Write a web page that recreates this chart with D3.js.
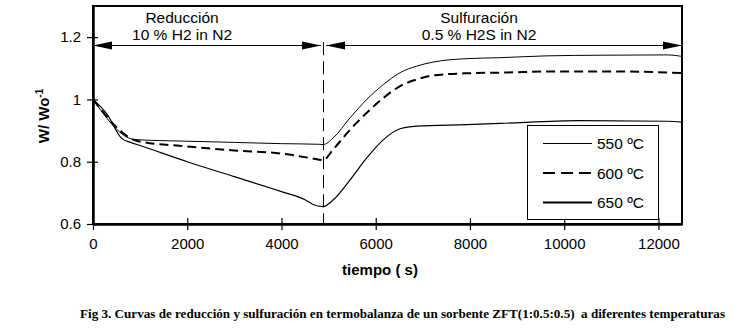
<!DOCTYPE html>
<html>
<head>
<meta charset="utf-8">
<script src="https://cdn.jsdelivr.net/npm/d3@7"></script>
<style>
  html, body { margin: 0; padding: 0; background: #fff; }
  svg { display: block; font-family: "Liberation Sans", Arial, sans-serif; }
</style>
</head>
<body>
<svg id="chart" width="733" height="331"></svg>
<script>
// Thermogravimetric curves: time (s) vs normalised weight W/Wo
const t550 = [0, 890, 1950, 3000, 4000, 4800, 4883, 5095, 5456, 5810, 6164, 6518, 6872, 7220, 7935, 8641, 9640, 10800, 12190, 12500];
const w550 = [1.0, 0.871, 0.866, 0.862, 0.858, 0.856, 0.855, 0.876, 0.941, 1.0, 1.048, 1.086, 1.107, 1.120, 1.131, 1.134, 1.140, 1.142, 1.143, 1.138];

const t600 = [0, 955, 2000, 3000, 4000, 4643, 4883, 5095, 5456, 5810, 6164, 6518, 6872, 7220, 7935, 8641, 9900, 11000, 12500];
const w600 = [1.0, 0.866, 0.849, 0.836, 0.826, 0.811, 0.805, 0.839, 0.903, 0.957, 1.005, 1.043, 1.064, 1.077, 1.084, 1.086, 1.090, 1.090, 1.085];

const t650 = [0, 300, 609, 800, 1000, 2000, 3000, 4000, 4500, 4700, 4883, 5095, 5456, 5810, 6164, 6518, 6872, 7935, 8641, 10340, 12190, 12500];
const w650 = [1.0, 0.952, 0.875, 0.862, 0.852, 0.800, 0.752, 0.704, 0.678, 0.661, 0.656, 0.677, 0.742, 0.812, 0.871, 0.906, 0.914, 0.919, 0.923, 0.932, 0.930, 0.927];

const seriesNames = ["550 ºC", "600 ºC", "650 ºC"];
const xTicks = [0, 2000, 4000, 6000, 8000, 10000, 12000];
const yTicks = [0.6, 0.8, 1, 1.2];

// Gas switch time and the stage labels
const switchTime = 4883;
const arrowLevel = 1.174;
const stageTop = ["Reducción", "Sulfuración"];
const stageBottom = ["10 % H2 in N2", "0.5 % H2S in N2"];

const caption = "Fig 3. Curvas de reducción y sulfuración en termobalanza de un sorbente ZFT(1:0.5:0.5)  a diferentes temperaturas";

const svg = d3.select("#chart");
const m = { left: 93, top: 6, right: 682, bottom: 224 };

const x = d3.scaleLinear().domain([0, 12500]).range([m.left, m.right]);
const y = d3.scaleLinear().domain([0.6, 1.3]).range([m.bottom, m.top]);

// Plot frame
svg.append("rect")
  .attr("x", m.left).attr("y", m.top)
  .attr("width", m.right - m.left).attr("height", m.bottom - m.top)
  .attr("fill", "none").attr("stroke", "#000").attr("stroke-width", 2);

// Axes with ticks crossing the axis line
const xAxis = svg.append("g").attr("transform", `translate(0,${m.bottom})`)
  .call(d3.axisBottom(x).tickValues(xTicks).tickSize(6).tickSizeOuter(0).tickFormat(d3.format("d")));
xAxis.select(".domain").attr("stroke-width", 2.5);
xAxis.selectAll(".tick line").attr("y1", -6).attr("stroke-width", 1.2);
xAxis.selectAll(".tick text").attr("y", 14).attr("font-size", 15).attr("font-family", "Liberation Sans, Arial, sans-serif").attr("fill", "#000");

const yAxis = svg.append("g").attr("transform", `translate(${m.left},0)`)
  .call(d3.axisLeft(y).tickValues(yTicks).tickSize(6).tickSizeOuter(0).tickFormat(d => String(d)));
yAxis.select(".domain").attr("stroke-width", 2.5);
yAxis.selectAll(".tick line").attr("x1", 5).attr("stroke-width", 1.2);
yAxis.selectAll(".tick text").attr("x", -12).attr("font-size", 15).attr("font-family", "Liberation Sans, Arial, sans-serif").attr("fill", "#000");

// Axis titles
svg.append("text")
  .attr("x", 380).attr("y", 275)
  .attr("text-anchor", "middle").attr("font-size", 15).attr("font-weight", "bold")
  .text("tiempo ( s)");

const yTitle = svg.append("text")
  .attr("transform", "translate(49,116) rotate(-90)")
  .attr("text-anchor", "middle").attr("font-size", 15).attr("font-weight", "bold");
yTitle.append("tspan").text("W/ Wo");
yTitle.append("tspan").attr("dy", -6).attr("font-size", 10).text("-1");

// Vertical dashed line at the gas switch
const xs = Math.round(x(switchTime)) + 0.5;
svg.append("line")
  .attr("x1", xs).attr("x2", xs)
  .attr("y1", y(arrowLevel) - 3).attr("y2", m.bottom)
  .attr("stroke", "#000").attr("stroke-width", 1).attr("stroke-dasharray", "13,6");

// Double-headed arrows for each stage
function arrowHead(tipX, tipY, dir) {
  const len = 19, half = 4;
  return `M${tipX},${tipY} L${tipX - dir * len},${tipY - half} L${tipX - dir * len},${tipY + half} Z`;
}
const stages = [
  { x0: 0, x1: switchTime, gapL: 0, gapR: 2 },
  { x0: switchTime, x1: 12500, gapL: 3, gapR: 0 }
];
stages.forEach((s, i) => {
  const xa = x(s.x0) + s.gapL, xb = x(s.x1) - s.gapR, ya = Math.round(y(arrowLevel)) + 0.5;
  svg.append("line").attr("x1", xa).attr("x2", xb).attr("y1", ya).attr("y2", ya)
    .attr("stroke", "#000").attr("stroke-width", 1);
  svg.append("path").attr("d", arrowHead(xa, ya, -1)).attr("fill", "#000");
  svg.append("path").attr("d", arrowHead(xb, ya, 1)).attr("fill", "#000");
  const cx = (xa + xb) / 2 - 25;
  svg.append("text").attr("x", cx).attr("y", 23).attr("text-anchor", "middle")
    .attr("font-size", 15.5).text(stageTop[i]);
  svg.append("text").attr("x", cx).attr("y", 40).attr("text-anchor", "middle")
    .attr("font-size", 15.5).text(stageBottom[i]);
});

// Curves
const line = d3.line().x(d => x(d[0])).y(d => y(d[1])).curve(d3.curveMonotoneX);
const series = [
  { t: t550, w: w550, width: 1, dash: null },
  { t: t600, w: w600, width: 2, dash: "9,5" },
  { t: t650, w: w650, width: 1.2, dash: null }
];
series.forEach(s => {
  svg.append("path")
    .datum(s.t.map((tv, i) => [tv, s.w[i]]))
    .attr("d", line)
    .attr("fill", "none").attr("stroke", "#000")
    .attr("stroke-width", s.width)
    .attr("stroke-dasharray", s.dash);
});

// Legend
const lg = svg.append("g");
lg.append("rect").attr("x", 527.5).attr("y", 125.5).attr("width", 131).attr("height", 94)
  .attr("fill", "#fff").attr("stroke", "#000").attr("stroke-width", 1);
const legendWidths = [1, 2.2, 2.2];
const legendDash = [null, "12,6", null];
seriesNames.forEach((name, i) => {
  const ly = 143.5 + i * 29.5;
  lg.append("line").attr("x1", 543).attr("x2", 592).attr("y1", ly).attr("y2", ly)
    .attr("stroke", "#000").attr("stroke-width", legendWidths[i]).attr("stroke-dasharray", legendDash[i]);
  lg.append("text").attr("x", 597).attr("y", ly + 5.5).attr("font-size", 15.5).text(name);
});

// Figure caption
svg.append("text")
  .attr("x", 80).attr("y", 318)
  .attr("font-family", "Liberation Serif, Times New Roman, serif")
  .attr("font-weight", "bold").attr("font-size", 11.5)
  .attr("textLength", 645).attr("lengthAdjust", "spacingAndGlyphs")
  .attr("xml:space", "preserve")
  .text(caption);
</script>
</body>
</html>
